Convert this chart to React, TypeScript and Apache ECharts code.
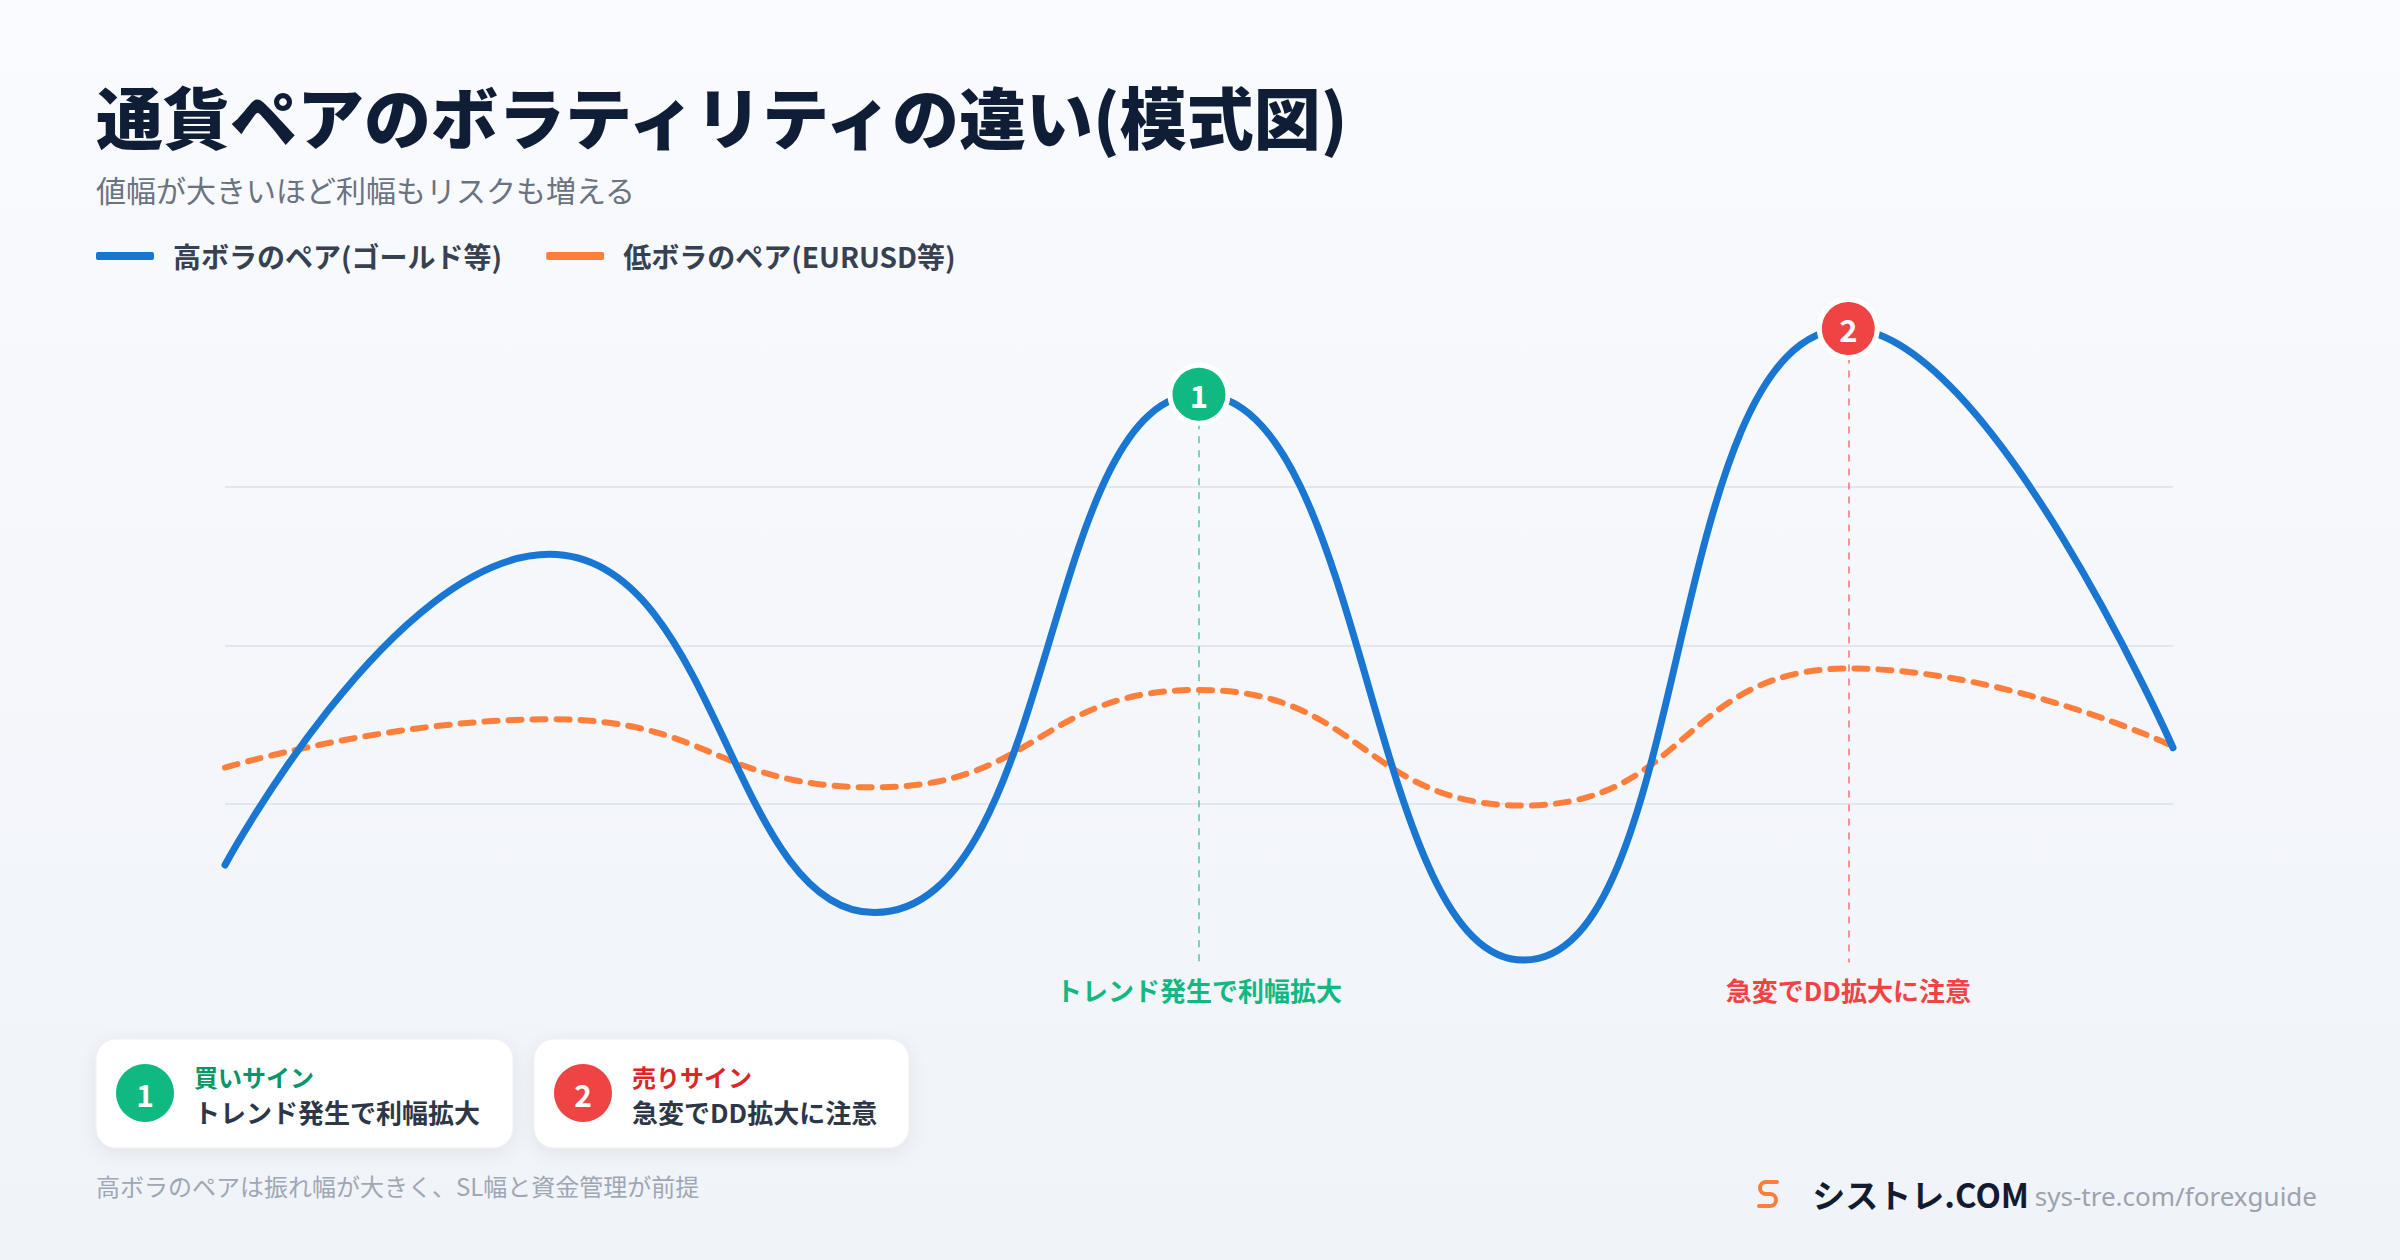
import React, { useEffect, useRef } from "react";
import * as echarts from "echarts";

// ---- data ----
const categories = ["P1", "P2", "P3", "P4", "P5", "P6", "P7"];
const highVolValues = [32.3, 71.5, 26.3, 91.7, 20.3, 100, 47.1];
const lowVolValues = [44.6, 50.7, 42.1, 54.4, 39.8, 57.1, 47.3];
const seriesNames = ["高ボラのペア(ゴールド等)", "低ボラのペア(EURUSD等)"];
const yMin = 20;
const yMax = 100;
const yInterval = 20;

const signalIndexes = [3, 5];
const signalNumbers = ["1", "2"];
const signalNotes = ["トレンド発生で利幅拡大", "急変でDD拡大に注意"];
const signalTitles = ["買いサイン", "売りサイン"];

const TITLE = "通貨ペアのボラティリティの違い(模式図)";
const SUBTITLE = "値幅が大きいほど利幅もリスクも増える";
const FOOTNOTE = "高ボラのペアは振れ幅が大きく、SL幅と資金管理が前提";
const BRAND = "シストレ.COM";
const URL = "sys-tre.com/forexguide";

// ---- styles ----
const FONT = '"Noto Sans CJK JP", "Noto Sans", sans-serif';
const BLUE = "#1976D2";
const ORANGE = "#FF7E3B";
const GREEN = "#10B981";
const RED = "#EF4444";
const signalColors = [GREEN, RED];
const signalLineColors = ["rgba(16,185,129,0.55)", "rgba(239,68,68,0.55)"];
const signalTitleColors = ["#059669", "#DC2626"];

echarts.graphic.registerShape(
  "sLogo",
  echarts.graphic.extendPath("M19 2 H8 A6 6 0 0 0 8 14 H12 A6 6 0 0 1 12 26 H1", {})
);

function card(x: number, w: number, i: number) {
  const y = 1039;
  const h = 109;
  const cx = x + 49;
  const cy = y + 54;
  return {
    type: "group",
    children: [
      {
        type: "rect",
        shape: { x, y, width: w, height: h, r: 20 },
        style: {
          fill: "#ffffff",
          stroke: "#eceff4",
          lineWidth: 1,
          shadowBlur: 18,
          shadowOffsetY: 4,
          shadowColor: "rgba(15,23,42,0.07)",
        },
      },
      {
        type: "circle",
        shape: { cx, cy, r: 29 },
        style: { fill: signalColors[i] },
      },
      {
        type: "text",
        style: {
          x: cx,
          y: cy + 1,
          text: signalNumbers[i],
          font: `bold 30px ${FONT}`,
          fill: "#ffffff",
          textAlign: "center",
          textVerticalAlign: "middle",
        },
      },
      {
        type: "text",
        style: {
          x: x + 98,
          y: y + 37,
          text: signalTitles[i],
          font: `bold 24px ${FONT}`,
          fill: signalTitleColors[i],
          textVerticalAlign: "middle",
        },
      },
      {
        type: "text",
        style: {
          x: x + 98,
          y: y + 72,
          text: signalNotes[i],
          font: `bold 26px ${FONT}`,
          fill: "#2D3748",
          textVerticalAlign: "middle",
        },
      },
    ],
  };
}

export default function App() {
  const ref = useRef<HTMLDivElement>(null);

  useEffect(() => {
    if (!ref.current) return;
    const chart = echarts.init(ref.current, undefined, { renderer: "svg" });

    const markLineData = signalIndexes.map((idx, i) => [
      {
        coord: [categories[idx], highVolValues[idx]],
        lineStyle: { color: signalLineColors[i], width: 2, type: [7, 7] },
        label: {
          show: true,
          position: "end",
          distance: 14,
          formatter: signalNotes[i],
          color: signalColors[i],
          fontSize: 26,
          fontWeight: "bold",
          fontFamily: FONT,
        },
      },
      { coord: [categories[idx], yMin] },
    ]);

    const option: any = {
      animation: false,
      backgroundColor: "transparent",
      textStyle: { fontFamily: FONT },
      grid: { left: 225, right: 227, top: 328.5, bottom: 297.5 },
      legend: {
        data: seriesNames,
        left: 96,
        top: 242,
        padding: 0,
        itemWidth: 58,
        itemHeight: 8,
        itemGap: 44,
        icon: "roundRect",
        textStyle: {
          fontSize: 28,
          fontWeight: "bold",
          color: "#374151",
          fontFamily: FONT,
          padding: [0, 0, 0, 14],
        },
      },
      xAxis: {
        type: "category",
        data: categories,
        boundaryGap: false,
        show: false,
      },
      yAxis: {
        type: "value",
        min: yMin,
        max: yMax,
        interval: yInterval,
        axisLine: { show: false },
        axisTick: { show: false },
        axisLabel: { show: false },
        splitLine: {
          show: true,
          showMinLine: false,
          showMaxLine: false,
          lineStyle: { color: "#E3E6EC", width: 2 },
        },
      },
      series: [
        {
          name: seriesNames[1],
          type: "line",
          data: lowVolValues,
          smooth: true,
          clip: false,
          showSymbol: false,
          color: ORANGE,
          lineStyle: { color: ORANGE, width: 6, type: [13, 11], cap: "round" },
          z: 2,
        },
        {
          name: seriesNames[0],
          type: "line",
          data: highVolValues,
          smooth: true,
          clip: false,
          showSymbol: false,
          color: BLUE,
          lineStyle: { color: BLUE, width: 7, cap: "round" },
          z: 3,
          markLine: {
            silent: true,
            symbol: ["none", "none"],
            data: markLineData,
            z: 1,
          },
        },
        {
          name: "signals",
          type: "scatter",
          data: signalIndexes.map((idx, i) => ({
            value: [categories[idx], highVolValues[idx]],
            itemStyle: { color: signalColors[i], opacity: 1 },
            label: { formatter: signalNumbers[i] },
          })),
          symbolSize: 58,
          clip: false,
          itemStyle: { borderColor: "#ffffff", borderWidth: 5, opacity: 1 },
          label: {
            show: true,
            position: "inside",
            color: "#ffffff",
            fontSize: 31,
            fontWeight: "bold",
            fontFamily: FONT,
          },
          z: 10,
          silent: true,
        },
      ],
      graphic: [
        {
          type: "text",
          style: {
            x: 96,
            y: 114,
            text: TITLE,
            font: `900 67px ${FONT}`,
            fill: "#0F1E36",
            textVerticalAlign: "middle",
          },
        },
        {
          type: "text",
          style: {
            x: 96,
            y: 189,
            text: SUBTITLE,
            font: `30px ${FONT}`,
            fill: "#6B7280",
            textVerticalAlign: "middle",
          },
        },
        card(96, 417, 0),
        card(534, 375, 1),
        {
          type: "text",
          style: {
            x: 96,
            y: 1185,
            text: FOOTNOTE,
            font: `24px ${FONT}`,
            fill: "#A0A7B4",
            textVerticalAlign: "middle",
          },
        },
        {
          type: "sLogo",
          x: 1758,
          y: 1180,
          scaleX: 1,
          scaleY: 1,
          style: { fill: "none", stroke: "#FF7E3B", lineWidth: 4, lineCap: "round" },
        },
        {
          type: "text",
          style: {
            x: 2029,
            y: 1194,
            text: BRAND,
            font: `bold 33px ${FONT}`,
            fill: "#111C33",
            textAlign: "right",
            textVerticalAlign: "middle",
          },
        },
        {
          type: "text",
          style: {
            x: 2317,
            y: 1196,
            text: URL,
            font: `26px "Noto Sans", Roboto, sans-serif`,
            fill: "#9CA3AF",
            textAlign: "right",
            textVerticalAlign: "middle",
          },
        },
      ],
    };

    chart.setOption(option);
    return () => chart.dispose();
  }, []);

  return (
    <div
      style={{
        position: "fixed",
        left: 0,
        top: 0,
        width: 2400,
        height: 1260,
        background: "linear-gradient(180deg, #F9FBFE 0%, #F0F3F8 100%)",
      }}
    >
      <div ref={ref} style={{ width: 2400, height: 1260 }} />
    </div>
  );
}
